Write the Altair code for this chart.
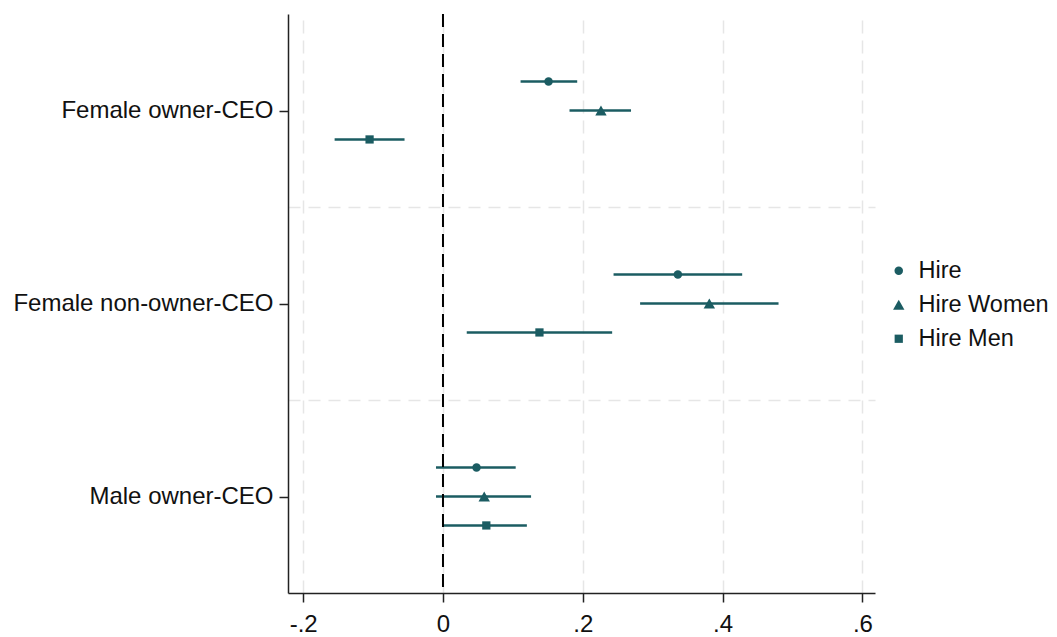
import altair as alt
import pandas as pd

categories = ["Female owner-CEO", "Female non-owner-CEO", "Male owner-CEO"]
series = ["Hire", "Hire Women", "Hire Men"]

hire_coef = [0.151, 0.336, 0.048]
hire_lo = [0.111, 0.244, -0.010]
hire_hi = [0.192, 0.428, 0.104]

women_coef = [0.226, 0.381, 0.059]
women_lo = [0.181, 0.282, -0.010]
women_hi = [0.269, 0.480, 0.126]

men_coef = [-0.105, 0.138, 0.062]
men_lo = [-0.155, 0.034, 0.000]
men_hi = [-0.055, 0.242, 0.120]

x_ticks = [-0.2, 0, 0.2, 0.4, 0.6]

TEAL = "#1b5c62"
GRID = "#e6e6e6"
FONT = "Liberation Sans"
DODGE = 0.15  # vertical dodge between series, in category units

rows = []
for k, (s, c, lo, hi) in enumerate([
    ("Hire", hire_coef, hire_lo, hire_hi),
    ("Hire Women", women_coef, women_lo, women_hi),
    ("Hire Men", men_coef, men_lo, men_hi),
]):
    for i, cat in enumerate(categories):
        rows.append(dict(category=cat, row=i + 1, slot=k - 1, series=s,
                         coef=c[i], lo=lo[i], hi=hi[i]))
df = pd.DataFrame(rows)

label_expr = " : ".join(
    [f"datum.value == {i + 1} ? '{cat}'" for i, cat in enumerate(categories)]
) + " : ''"

x_scale = alt.Scale(domain=[-0.2217, 0.618], nice=False, zero=False)
x_axis = alt.Axis(
    values=x_ticks,
    labelExpr="datum.value == 0 ? '0' : (datum.value < 0 ? '-' : '') + replace(format(abs(datum.value), '.1f'), '0.', '.')",
    title=None,
    grid=True,
    gridColor=GRID,
    gridDash=[13, 7],
    gridWidth=1.5,
    tickSize=9,
    tickWidth=1.5,
    tickColor="#222222",
    domainColor="#222222",
    domainWidth=1.5,
    labelFontSize=24,
    labelFont=FONT,
    labelColor="#111111",
    labelBaseline="alphabetic",
    labelPadding=29,
)
y_scale = alt.Scale(domain=[0.5, 3.5], reverse=True, nice=False, zero=False)
y_axis = alt.Axis(
    values=[1, 1.5, 2, 2.5, 3],
    labelExpr=label_expr,
    title=None,
    grid=True,
    gridColor=GRID,
    gridDash=[12, 8],
    gridWidth=1.5,
    gridOpacity={"condition": {"test": "datum.value % 1 != 0", "value": 1}, "value": 0},
    tickOpacity={"condition": {"test": "datum.value % 1 == 0", "value": 1}, "value": 0},
    tickSize=9,
    tickWidth=1.5,
    tickColor="#222222",
    domainColor="#222222",
    domainWidth=1.5,
    labelFontSize=24,
    labelFont=FONT,
    labelColor="#111111",
    labelPadding=6,
    labelLimit=0,
)

legend = alt.Legend(
    title=None,
    orient="none",
    legendX=599,
    legendY=245,
    labelFontSize=23.5,
    labelFont=FONT,
    labelColor="#111111",
    symbolFillColor=TEAL,
    symbolStrokeColor=TEAL,
    symbolStrokeWidth=0,
    rowPadding=9,
    labelOffset=8,
    padding=0,
    labelLimit=0,
)

base = alt.Chart(df).transform_calculate(pos=f"datum.row + datum.slot * {DODGE}")

bars = base.mark_rule(color=TEAL, strokeWidth=2.5).encode(
    x=alt.X("lo:Q", scale=x_scale, axis=x_axis),
    x2="hi:Q",
    y=alt.Y("pos:Q", scale=y_scale, axis=y_axis),
)

zero = alt.Chart(pd.DataFrame({"z": [0]})).mark_rule(
    color="black", strokeWidth=2, strokeDash=[13, 7]
).encode(x=alt.X("z:Q", scale=x_scale, axis=x_axis))

points = base.mark_point(filled=True, color=TEAL, opacity=1).encode(
    x=alt.X("coef:Q", scale=x_scale, axis=x_axis),
    y=alt.Y("pos:Q", scale=y_scale, axis=y_axis),
    shape=alt.Shape(
        "series:N",
        scale=alt.Scale(domain=series, range=["circle", "triangle-up", "square"]),
        legend=legend,
    ),
    size=alt.Size(
        "series:N",
        scale=alt.Scale(type="ordinal", domain=series, range=[72, 130, 68]),
        legend=legend,
    ),
)

chart = (
    alt.layer(bars, zero, points)
    .properties(
        width=587,
        height=579,
        autosize=alt.AutoSizeParams(type="none"),
        padding={"left": 280, "top": 6, "right": 174, "bottom": 50},
        background="white",
    )
    .configure_view(stroke=None)
)

chart.save("out.html", embed_options={"renderer": "svg", "actions": False})
